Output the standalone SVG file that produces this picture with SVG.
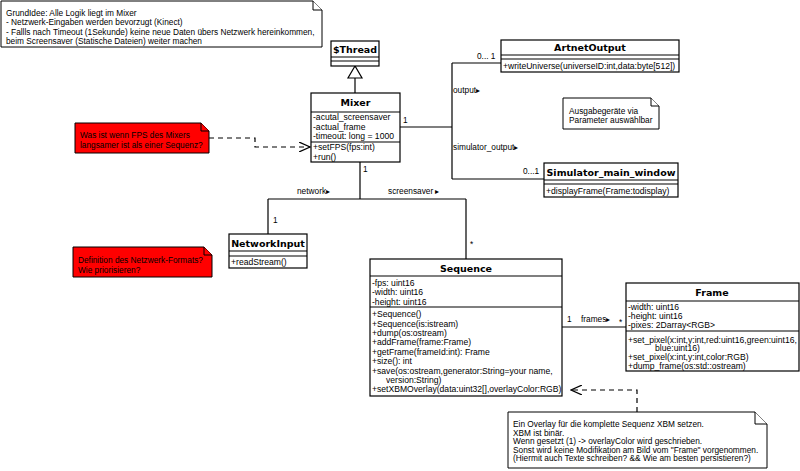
<svg xmlns="http://www.w3.org/2000/svg" width="800" height="471" viewBox="0 0 800 471">
<style>
.box{fill:#fff;stroke:#000;stroke-width:1.2}
.sep{stroke:#000;stroke-width:1.2}
.t{font-family:"Liberation Sans",Arial,sans-serif;font-size:8.6px;fill:#000}
.n{font-family:"Liberation Sans",Arial,sans-serif;font-size:8.3px;fill:#000}
.h{font-family:"DejaVu Sans",sans-serif;font-size:9.5px;font-weight:bold;fill:#000;text-anchor:middle}
.note{fill:#fff;stroke:#000;stroke-width:1}
.rnote{fill:#ff0000;stroke:#000;stroke-width:1}
.line{fill:none;stroke:#000;stroke-width:1.2}
.dash{fill:none;stroke:#000;stroke-width:1.2;stroke-dasharray:5,4}
</style>
<defs>
<marker id="open" markerWidth="12" markerHeight="10" refX="11" refY="5" orient="auto" markerUnits="userSpaceOnUse">
<path d="M0,0 L11,5 L0,10" fill="none" stroke="#000" stroke-width="1.2"/>
</marker>
</defs>
<rect width="800" height="471" fill="#fff"/>

<g id="note-grundidee">
<path class="note" d="M1,1 H313 L322,10 V47 H1 Z"/>
<path class="note" d="M313,1 V10 H322" fill="none"/>
<text class="n" x="6" y="15.5">GrundIdee: Alle Logik liegt im Mixer</text>
<text class="n" x="6" y="25">- Netzwerk-Eingaben werden bevorzugt (Kinect)</text>
<text class="n" x="6" y="34.5">- Fallls nach Timeout (1Sekunde) keine neue Daten übers Netzwerk hereinkommen,</text>
<text class="n" x="6" y="44">beim Screensaver (Statische Dateien) weiter machen</text>
</g>

<g id="connectors">
<path class="line" d="M355,66 V93"/>
<path d="M355,66 L348,78 H362 Z" fill="#fff" stroke="#000" stroke-width="1.2"/>
<path class="line" d="M400,127 H452 M452,63 V179 M452,63 H501 M452,179 H544"/>
<path class="line" d="M360,162 V199 M268,199 H466 M268,199 V234 M466,199 V259"/>
<path class="line" d="M562,327 H626"/>
<path class="dash" d="M209,138 H255 V147 H310" marker-end="url(#open)"/>
<path class="dash" d="M637,412 V390 H571" marker-end="url(#open)"/>
<text class="n" x="403" y="123">1</text>
<text class="n" x="453" y="93">output▸</text>
<text class="n" x="453" y="150">simulator_output▸</text>
<text class="n" x="477" y="59">0... 1</text>
<text class="n" x="523" y="174">0...1</text>
<text class="n" x="363" y="172">1</text>
<text class="n" x="297" y="194">network▸</text>
<text class="n" x="388" y="194">screensaver ▸</text>
<text class="n" x="273" y="223">1</text>
<text class="n" x="470" y="247">*</text>
<text class="n" x="567" y="322">1</text>
<text class="n" x="581" y="322">frames▸</text>
<text class="n" x="619" y="325">*</text>
</g>

<g id="Thread">
<rect class="box" x="331" y="41" width="48" height="25"/>
<path class="sep" d="M331,57 H379 M331,61 H379"/>
<text class="h" x="355" y="53">$Thread</text>
</g>

<g id="Mixer">
<rect class="box" x="311" y="93" width="89" height="69"/>
<path class="sep" d="M311,112 H400 M311,142 H400"/>
<text class="h" x="355.5" y="106">Mixer</text>
<text class="t" x="313" y="120">-acutal_screensaver</text>
<text class="t" x="313" y="129.5">-actual_frame</text>
<text class="t" x="313" y="139">-timeout: long = 1000</text>
<text class="t" x="313" y="150">+setFPS(fps:int)</text>
<text class="t" x="313" y="159.5">+run()</text>
</g>

<g id="ArtnetOutput">
<rect class="box" x="501" y="40" width="178" height="32"/>
<path class="sep" d="M501,55 H679 M501,59 H679"/>
<text class="h" x="590" y="51">ArtnetOutput</text>
<text class="t" x="503" y="68.5">+writeUniverse(universeID:int,data:byte[512])</text>
</g>

<g id="note-ausgabe">
<path class="note" d="M563,98 H651 L659,106 V129 H563 Z"/>
<path class="note" d="M651,98 V106 H659" fill="none"/>
<text class="n" x="569" y="113.5">Ausgabegeräte via</text>
<text class="n" x="569" y="123">Parameter auswählbar</text>
</g>

<g id="Simulator_main_window">
<rect class="box" x="544" y="163" width="134" height="34"/>
<path class="sep" d="M544,180 H678 M544,184 H678"/>
<text class="h" x="611" y="175.5">Simulator_main_window</text>
<text class="t" x="546" y="193.5">+displayFrame(Frame:todisplay)</text>
</g>

<g id="note-fps">
<path class="rnote" d="M75,123 H201 L209,131 V153 H75 Z"/>
<path class="rnote" d="M201,123 V131 H209"/>
<text class="n" x="80" y="138">Was ist wenn FPS des Mixers</text>
<text class="n" x="80" y="147.5">langsamer ist als einer Sequenz?</text>
</g>

<g id="NetworkInput">
<rect class="box" x="229" y="234" width="78" height="34"/>
<path class="sep" d="M229,251 H307 M229,256 H307"/>
<text class="h" x="268" y="247">NetworkInput</text>
<text class="t" x="231" y="265">+readStream()</text>
</g>

<g id="note-netzwerk">
<path class="rnote" d="M73,247 H204 L212,255 V277 H73 Z"/>
<path class="rnote" d="M204,247 V255 H212"/>
<text class="n" x="78" y="263">Definition des Netzwerk-Formats?</text>
<text class="n" x="78" y="272.5">Wie priorisieren?</text>
</g>

<g id="Sequence">
<rect class="box" x="370" y="259" width="192" height="137"/>
<path class="sep" d="M370,276 H562 M370,307 H562"/>
<text class="h" x="466" y="272">Sequence</text>
<text class="t" x="372" y="285.5">-fps: uint16</text>
<text class="t" x="372" y="295">-width: uint16</text>
<text class="t" x="372" y="304.5">-height: uint16</text>
<text class="t" x="372" y="317.3">+Sequence()</text>
<text class="t" x="372" y="326.7">+Sequence(is:istream)</text>
<text class="t" x="372" y="336">+dump(os:ostream)</text>
<text class="t" x="372" y="345.4">+addFrame(frame:Frame)</text>
<text class="t" x="372" y="354.8">+getFrame(frameId:int): Frame</text>
<text class="t" x="372" y="364.2">+size(): int</text>
<text class="t" x="372" y="373.6">+save(os:ostream,generator:String=your name,</text>
<text class="t" x="386" y="383">version:String)</text>
<text class="t" x="372" y="392.4">+setXBMOverlay(data:uint32[],overlayColor:RGB)</text>
</g>

<g id="Frame">
<rect class="box" x="626" y="283" width="173" height="88"/>
<path class="sep" d="M626,301 H799 M626,331 H799"/>
<text class="h" x="712" y="296">Frame</text>
<text class="t" x="628" y="310">-width: uint16</text>
<text class="t" x="628" y="319">-height: uint16</text>
<text class="t" x="628" y="328">-pixes: 2Darray&lt;RGB&gt;</text>
<text class="t" x="628" y="342.5">+set_pixel(x:int,y:int,red:uint16,green:uint16,</text>
<text class="t" x="655" y="351">blue:uint16)</text>
<text class="t" x="628" y="360">+set_pixel(x:int,y:int,color:RGB)</text>
<text class="t" x="628" y="368.5">+dump_frame(os:std::ostream)</text>
</g>

<g id="note-overlay">
<path class="note" d="M508,412 H755 L767,424 V468 H508 Z"/>
<path class="note" d="M755,412 V424 H767" fill="none"/>
<text class="n" x="513" y="427">Ein Overlay für die komplette Sequenz XBM setzen.</text>
<text class="n" x="513" y="435.5">XBM ist binär.</text>
<text class="n" x="513" y="444">Wenn gesetzt (1) -&gt; overlayColor wird geschrieben.</text>
<text class="n" x="513" y="452.5">Sonst wird keine Modifikation am Bild vom "Frame" vorgenommen.</text>
<text class="n" x="513" y="461">(Hiermit auch Texte schreiben? &amp;&amp; Wie am besten persistieren?)</text>
</g>
</svg>
